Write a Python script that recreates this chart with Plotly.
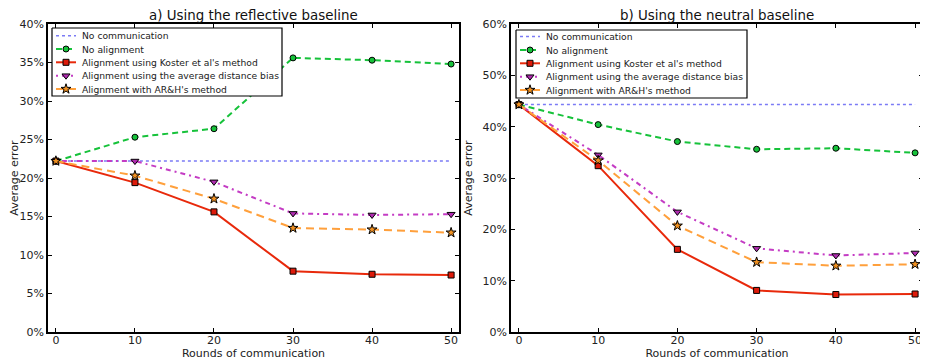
import plotly.graph_objects as go

rounds = [0, 10, 20, 30, 40, 50]

# a) reflective baseline (percent)
a_no_comm = [22.2, 22.2, 22.2, 22.2, 22.2, 22.2]
a_no_align = [22.2, 25.3, 26.4, 35.6, 35.3, 34.8]
a_koster = [22.2, 19.4, 15.6, 7.9, 7.5, 7.4]
a_avgdist = [22.2, 22.2, 19.5, 15.4, 15.2, 15.3]
a_arh = [22.2, 20.3, 17.3, 13.5, 13.3, 12.9]

# b) neutral baseline (percent)
b_no_comm = [44.3, 44.3, 44.3, 44.3, 44.3, 44.3]
b_no_align = [44.3, 40.4, 37.1, 35.6, 35.8, 34.9]
b_koster = [44.3, 32.4, 16.1, 8.1, 7.3, 7.4]
b_avgdist = [44.3, 34.5, 23.4, 16.3, 14.9, 15.4]
b_arh = [44.3, 33.4, 20.7, 13.6, 12.9, 13.2]

names = ["No communication", "No alignment", "Alignment using Koster et al's method",
         "Alignment using the average distance bias", "Alignment with AR&H's method"]
x_ticks = [0, 10, 20, 30, 40, 50]
a_yticks = [0, 5, 10, 15, 20, 25, 30, 35, 40]
b_yticks = [0, 10, 20, 30, 40, 50, 60]

FONT = "DejaVu Sans"
OX, OY = 8, 8          # page body margin offset
W, H = 928 - OX, 361 - OY


def px(p):
    return (p - OX) / W


def py(p):
    return 1 - (p - OY) / H


styles = [
    dict(color="#7b7bf5", dash="dot", width=1.5, symbol=None, mcolor=None, size=0),
    dict(color="#16c23a", dash="6px,4px", width=2, symbol="circle", mcolor="#16c23a", size=6),
    dict(color="#e8290b", dash="solid", width=2, symbol="square", mcolor="#dd1a0a", size=6),
    dict(color="#c43cc4", dash="2px,4px,5px,4px", width=2, symbol="triangle-down", mcolor="#b02cb0", size=7),
    dict(color="#ffa03c", dash="8px,5px", width=2, symbol="star", mcolor="#f09020", size=7.5),
]

fig = go.Figure()


def add_panel(series, xa, ya):
    for nm, ys, st in zip(names, series, styles):
        mode = "lines" if st["symbol"] is None else "lines+markers"
        tr = go.Scatter(
            x=rounds, y=ys, name=nm, mode=mode, xaxis=xa, yaxis=ya, showlegend=False,
            line=dict(color=st["color"], dash=st["dash"], width=st["width"]),
        )
        if st["symbol"]:
            tr.marker = dict(symbol=st["symbol"], size=st["size"],
                             color=st["mcolor"], line=dict(color="black", width=1))
        fig.add_trace(tr)


add_panel([a_no_comm, a_no_align, a_koster, a_avgdist, a_arh], "x", "y")
add_panel([b_no_comm, b_no_align, b_koster, b_avgdist, b_arh], "x2", "y2")

# custom legends drawn on a pixel overlay axis (above the data)
annotations = []


def add_legend(box, rows_y, x0, x1, xtext):
    bl, bt, br, bb = box
    fig.add_trace(go.Scatter(x=[bl, br, br, bl, bl], y=[bt, bt, bb, bb, bt], mode="lines",
                             fill="toself", fillcolor="white", xaxis="x3", yaxis="y3",
                             showlegend=False, hoverinfo="skip",
                             line=dict(color="black", width=1.2)))
    for nm, st, ry in zip(names, styles, rows_y):
        fig.add_trace(go.Scatter(x=[x0, x1], y=[ry, ry], mode="lines", xaxis="x3", yaxis="y3",
                                 showlegend=False, hoverinfo="skip",
                                 line=dict(color=st["color"], dash=st["dash"], width=st["width"])))
        if st["symbol"]:
            fig.add_trace(go.Scatter(x=[(x0 + x1) / 2], y=[ry], mode="markers", xaxis="x3", yaxis="y3",
                                     showlegend=False, hoverinfo="skip",
                                     marker=dict(symbol=st["symbol"], size=st["size"], color=st["mcolor"],
                                                 line=dict(color="black", width=1))))
        annotations.append(dict(text=nm, x=xtext, y=ry, xref="x3", yref="y3", showarrow=False,
                                xanchor="left", yanchor="middle", borderpad=0,
                                font=dict(family=FONT, size=9.2, color="#222")))


add_legend((52, 28, 282, 96), [35.7, 49, 62.3, 75.7, 89], 56, 76, 81)
add_legend((516, 30, 747, 98), [36.6, 50, 63.3, 76.7, 90], 520, 540, 545)

ydom = [py(332), py(24)]
axis_common = dict(showline=True, linecolor="black", linewidth=1.5, mirror="ticks",
                   ticks="inside", ticklen=4, tickcolor="black", showgrid=False, zeroline=False,
                   automargin=False, tickfont=dict(family=FONT, size=11, color="#222"))
xaxis_extra = dict(ticklabelstandoff=-3)

annotations += [
    dict(text="a) Using the reflective baseline", x=px((48 + 459) / 2), y=py(15),
         xref="paper", yref="paper", showarrow=False, xanchor="center", yanchor="middle",
         font=dict(family=FONT, size=13.4, color="#111")),
    dict(text="b) Using the neutral baseline", x=px((511 + 923) / 2), y=py(16),
         xref="paper", yref="paper", showarrow=False, xanchor="center", yanchor="middle",
         font=dict(family=FONT, size=13.4, color="#111")),
]

fig.update_layout(
    width=W, height=H, margin=dict(l=0, r=0, t=0, b=0),
    paper_bgcolor="white", plot_bgcolor="rgba(0,0,0,0)",
    font=dict(family=FONT, color="#222"),
    showlegend=False,
    xaxis=dict(domain=[px(48), px(459)], range=[-1, 51], tickvals=x_ticks,
               title=dict(text="Rounds of communication", font=dict(size=11), standoff=0), anchor="y",
               **axis_common, **xaxis_extra),
    yaxis=dict(domain=ydom, range=[0, 40], tickvals=a_yticks,
               ticktext=[f"{v}%" for v in a_yticks], anchor="x",
               title=dict(text="Average error", font=dict(size=11), standoff=8), **axis_common),
    xaxis2=dict(domain=[px(511), px(923)], range=[-1, 51], tickvals=x_ticks,
                title=dict(text="Rounds of communication", font=dict(size=11), standoff=0), anchor="y2",
                **axis_common, **xaxis_extra),
    yaxis2=dict(domain=ydom, range=[0, 60], tickvals=b_yticks,
                ticktext=[f"{v}%" for v in b_yticks], anchor="x2",
                title=dict(text="Average error", font=dict(size=11), standoff=8), **axis_common),
    xaxis3=dict(domain=[0, 1], range=[OX, OX + W], visible=False, fixedrange=True, anchor="y3"),
    yaxis3=dict(domain=[0, 1], range=[OY + H, OY], visible=False, fixedrange=True, anchor="x3"),
    annotations=annotations,
)

fig.write_html("out.html")
